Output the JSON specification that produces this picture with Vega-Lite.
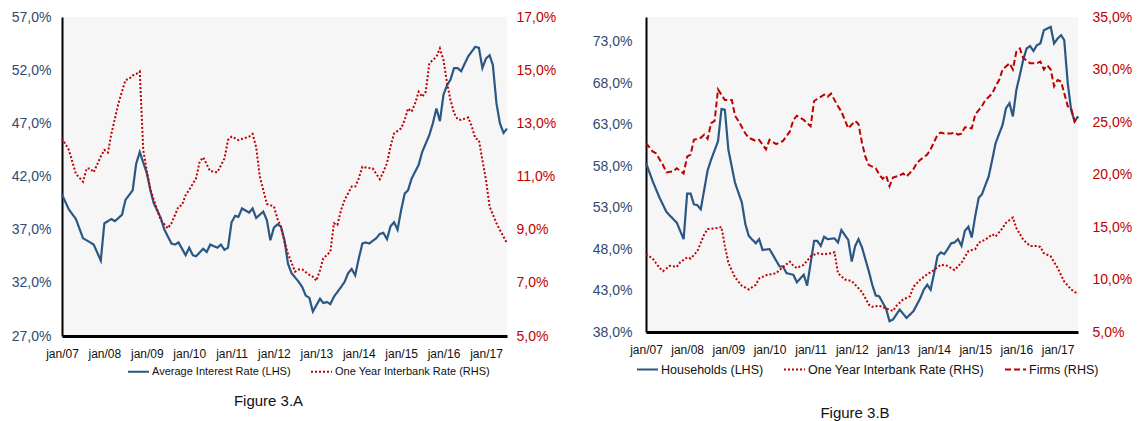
{
"$schema":"https://vega.github.io/schema/vega-lite/v6.json",
"background":"white",
"padding":{"left":5,"top":10,"right":5,"bottom":5},
"config":{"font":"Liberation Sans","view":{"stroke":null}},
"datasets":{
"A":[
{"s":"Average Interest Rate (LHS)","d":"2007-01-01","v":40.3},{"s":"Average Interest Rate (LHS)","d":"2007-03-01","v":38.9},{"s":"Average Interest Rate (LHS)","d":"2007-05-01","v":38.0},{"s":"Average Interest Rate (LHS)","d":"2007-07-01","v":36.2},{"s":"Average Interest Rate (LHS)","d":"2007-09-01","v":35.8},{"s":"Average Interest Rate (LHS)","d":"2007-10-01","v":35.6},{"s":"Average Interest Rate (LHS)","d":"2007-12-01","v":34.1},{"s":"Average Interest Rate (LHS)","d":"2008-01-01","v":37.6},{"s":"Average Interest Rate (LHS)","d":"2008-03-01","v":38.0},{"s":"Average Interest Rate (LHS)","d":"2008-04-01","v":37.8},{"s":"Average Interest Rate (LHS)","d":"2008-06-01","v":38.4},{"s":"Average Interest Rate (LHS)","d":"2008-07-01","v":39.8},{"s":"Average Interest Rate (LHS)","d":"2008-09-01","v":40.7},{"s":"Average Interest Rate (LHS)","d":"2008-10-01","v":43.2},{"s":"Average Interest Rate (LHS)","d":"2008-11-01","v":44.3},{"s":"Average Interest Rate (LHS)","d":"2009-01-01","v":42.3},{"s":"Average Interest Rate (LHS)","d":"2009-02-01","v":40.7},{"s":"Average Interest Rate (LHS)","d":"2009-03-01","v":39.5},{"s":"Average Interest Rate (LHS)","d":"2009-05-01","v":38.1},{"s":"Average Interest Rate (LHS)","d":"2009-06-01","v":37.0},{"s":"Average Interest Rate (LHS)","d":"2009-08-01","v":35.7},{"s":"Average Interest Rate (LHS)","d":"2009-09-01","v":35.6},{"s":"Average Interest Rate (LHS)","d":"2009-10-01","v":35.8},{"s":"Average Interest Rate (LHS)","d":"2009-12-01","v":34.6},{"s":"Average Interest Rate (LHS)","d":"2010-01-01","v":35.3},{"s":"Average Interest Rate (LHS)","d":"2010-02-01","v":34.6},{"s":"Average Interest Rate (LHS)","d":"2010-03-01","v":34.5},{"s":"Average Interest Rate (LHS)","d":"2010-05-01","v":35.2},{"s":"Average Interest Rate (LHS)","d":"2010-06-01","v":34.9},{"s":"Average Interest Rate (LHS)","d":"2010-07-01","v":35.6},{"s":"Average Interest Rate (LHS)","d":"2010-09-01","v":35.3},{"s":"Average Interest Rate (LHS)","d":"2010-10-01","v":35.6},{"s":"Average Interest Rate (LHS)","d":"2010-11-01","v":35.1},{"s":"Average Interest Rate (LHS)","d":"2010-12-01","v":35.3},{"s":"Average Interest Rate (LHS)","d":"2011-01-01","v":37.7},{"s":"Average Interest Rate (LHS)","d":"2011-02-01","v":38.3},{"s":"Average Interest Rate (LHS)","d":"2011-03-01","v":38.2},{"s":"Average Interest Rate (LHS)","d":"2011-04-01","v":39.0},{"s":"Average Interest Rate (LHS)","d":"2011-06-01","v":38.6},{"s":"Average Interest Rate (LHS)","d":"2011-07-01","v":39.0},{"s":"Average Interest Rate (LHS)","d":"2011-08-01","v":38.1},{"s":"Average Interest Rate (LHS)","d":"2011-10-01","v":38.7},{"s":"Average Interest Rate (LHS)","d":"2011-11-01","v":37.9},{"s":"Average Interest Rate (LHS)","d":"2011-12-01","v":36.0},{"s":"Average Interest Rate (LHS)","d":"2012-01-01","v":37.2},{"s":"Average Interest Rate (LHS)","d":"2012-02-01","v":37.5},{"s":"Average Interest Rate (LHS)","d":"2012-03-01","v":37.3},{"s":"Average Interest Rate (LHS)","d":"2012-04-01","v":36.0},{"s":"Average Interest Rate (LHS)","d":"2012-05-01","v":33.8},{"s":"Average Interest Rate (LHS)","d":"2012-06-01","v":32.9},{"s":"Average Interest Rate (LHS)","d":"2012-08-01","v":32.1},{"s":"Average Interest Rate (LHS)","d":"2012-09-01","v":31.6},{"s":"Average Interest Rate (LHS)","d":"2012-10-01","v":30.8},{"s":"Average Interest Rate (LHS)","d":"2012-11-01","v":30.6},{"s":"Average Interest Rate (LHS)","d":"2012-12-01","v":29.3},{"s":"Average Interest Rate (LHS)","d":"2013-01-01","v":29.9},{"s":"Average Interest Rate (LHS)","d":"2013-02-01","v":30.5},{"s":"Average Interest Rate (LHS)","d":"2013-03-01","v":30.1},{"s":"Average Interest Rate (LHS)","d":"2013-04-01","v":30.2},{"s":"Average Interest Rate (LHS)","d":"2013-05-01","v":30.0},{"s":"Average Interest Rate (LHS)","d":"2013-06-01","v":30.7},{"s":"Average Interest Rate (LHS)","d":"2013-08-01","v":31.6},{"s":"Average Interest Rate (LHS)","d":"2013-09-01","v":32.1},{"s":"Average Interest Rate (LHS)","d":"2013-10-01","v":32.9},{"s":"Average Interest Rate (LHS)","d":"2013-11-01","v":33.3},{"s":"Average Interest Rate (LHS)","d":"2013-12-01","v":32.7},{"s":"Average Interest Rate (LHS)","d":"2014-01-01","v":34.3},{"s":"Average Interest Rate (LHS)","d":"2014-02-01","v":35.7},{"s":"Average Interest Rate (LHS)","d":"2014-03-01","v":35.8},{"s":"Average Interest Rate (LHS)","d":"2014-04-01","v":35.7},{"s":"Average Interest Rate (LHS)","d":"2014-06-01","v":36.2},{"s":"Average Interest Rate (LHS)","d":"2014-07-01","v":36.6},{"s":"Average Interest Rate (LHS)","d":"2014-08-01","v":36.7},{"s":"Average Interest Rate (LHS)","d":"2014-09-01","v":36.1},{"s":"Average Interest Rate (LHS)","d":"2014-10-01","v":37.3},{"s":"Average Interest Rate (LHS)","d":"2014-11-01","v":37.7},{"s":"Average Interest Rate (LHS)","d":"2014-12-01","v":37.0},{"s":"Average Interest Rate (LHS)","d":"2015-01-01","v":38.85},{"s":"Average Interest Rate (LHS)","d":"2015-02-01","v":40.4},{"s":"Average Interest Rate (LHS)","d":"2015-03-01","v":40.7},{"s":"Average Interest Rate (LHS)","d":"2015-04-01","v":41.8},{"s":"Average Interest Rate (LHS)","d":"2015-06-01","v":43.1},{"s":"Average Interest Rate (LHS)","d":"2015-07-01","v":44.3},{"s":"Average Interest Rate (LHS)","d":"2015-09-01","v":45.9},{"s":"Average Interest Rate (LHS)","d":"2015-10-01","v":47.0},{"s":"Average Interest Rate (LHS)","d":"2015-11-01","v":48.4},{"s":"Average Interest Rate (LHS)","d":"2015-12-01","v":47.2},{"s":"Average Interest Rate (LHS)","d":"2016-01-01","v":49.7},{"s":"Average Interest Rate (LHS)","d":"2016-02-01","v":50.6},{"s":"Average Interest Rate (LHS)","d":"2016-03-01","v":51.1},{"s":"Average Interest Rate (LHS)","d":"2016-04-01","v":52.2},{"s":"Average Interest Rate (LHS)","d":"2016-05-01","v":52.2},{"s":"Average Interest Rate (LHS)","d":"2016-06-01","v":51.9},{"s":"Average Interest Rate (LHS)","d":"2016-07-01","v":52.6},{"s":"Average Interest Rate (LHS)","d":"2016-08-01","v":53.3},{"s":"Average Interest Rate (LHS)","d":"2016-10-01","v":54.2},{"s":"Average Interest Rate (LHS)","d":"2016-11-01","v":54.1},{"s":"Average Interest Rate (LHS)","d":"2016-12-01","v":52.2},{"s":"Average Interest Rate (LHS)","d":"2017-01-01","v":53.1},{"s":"Average Interest Rate (LHS)","d":"2017-02-01","v":53.4},{"s":"Average Interest Rate (LHS)","d":"2017-03-01","v":52.5},{"s":"Average Interest Rate (LHS)","d":"2017-04-01","v":48.9},{"s":"Average Interest Rate (LHS)","d":"2017-05-01","v":47.0},{"s":"Average Interest Rate (LHS)","d":"2017-06-01","v":46.1},{"s":"Average Interest Rate (LHS)","d":"2017-07-01","v":46.5},
{"s":"One Year Interbank Rate (RHS)","d":"2007-01-01","v":12.44},{"s":"One Year Interbank Rate (RHS)","d":"2007-03-01","v":12.0},{"s":"One Year Interbank Rate (RHS)","d":"2007-05-01","v":11.1},{"s":"One Year Interbank Rate (RHS)","d":"2007-07-01","v":10.8},{"s":"One Year Interbank Rate (RHS)","d":"2007-08-01","v":11.3},{"s":"One Year Interbank Rate (RHS)","d":"2007-09-01","v":11.3},{"s":"One Year Interbank Rate (RHS)","d":"2007-10-01","v":11.16},{"s":"One Year Interbank Rate (RHS)","d":"2007-12-01","v":11.75},{"s":"One Year Interbank Rate (RHS)","d":"2008-01-01","v":12.0},{"s":"One Year Interbank Rate (RHS)","d":"2008-02-01","v":11.9},{"s":"One Year Interbank Rate (RHS)","d":"2008-03-01","v":12.6},{"s":"One Year Interbank Rate (RHS)","d":"2008-05-01","v":13.75},{"s":"One Year Interbank Rate (RHS)","d":"2008-07-01","v":14.63},{"s":"One Year Interbank Rate (RHS)","d":"2008-08-01","v":14.67},{"s":"One Year Interbank Rate (RHS)","d":"2008-09-01","v":14.8},{"s":"One Year Interbank Rate (RHS)","d":"2008-10-01","v":14.85},{"s":"One Year Interbank Rate (RHS)","d":"2008-11-01","v":14.95},{"s":"One Year Interbank Rate (RHS)","d":"2008-12-01","v":12.0},{"s":"One Year Interbank Rate (RHS)","d":"2009-01-01","v":11.2},{"s":"One Year Interbank Rate (RHS)","d":"2009-02-01","v":10.5},{"s":"One Year Interbank Rate (RHS)","d":"2009-04-01","v":9.74},{"s":"One Year Interbank Rate (RHS)","d":"2009-05-01","v":9.36},{"s":"One Year Interbank Rate (RHS)","d":"2009-07-01","v":9.05},{"s":"One Year Interbank Rate (RHS)","d":"2009-08-01","v":9.24},{"s":"One Year Interbank Rate (RHS)","d":"2009-10-01","v":9.87},{"s":"One Year Interbank Rate (RHS)","d":"2009-11-01","v":9.93},{"s":"One Year Interbank Rate (RHS)","d":"2009-12-01","v":10.3},{"s":"One Year Interbank Rate (RHS)","d":"2010-01-01","v":10.5},{"s":"One Year Interbank Rate (RHS)","d":"2010-03-01","v":10.93},{"s":"One Year Interbank Rate (RHS)","d":"2010-04-01","v":11.56},{"s":"One Year Interbank Rate (RHS)","d":"2010-05-01","v":11.72},{"s":"One Year Interbank Rate (RHS)","d":"2010-07-01","v":11.2},{"s":"One Year Interbank Rate (RHS)","d":"2010-09-01","v":11.16},{"s":"One Year Interbank Rate (RHS)","d":"2010-11-01","v":11.68},{"s":"One Year Interbank Rate (RHS)","d":"2010-12-01","v":12.37},{"s":"One Year Interbank Rate (RHS)","d":"2011-01-01","v":12.5},{"s":"One Year Interbank Rate (RHS)","d":"2011-03-01","v":12.37},{"s":"One Year Interbank Rate (RHS)","d":"2011-06-01","v":12.5},{"s":"One Year Interbank Rate (RHS)","d":"2011-07-01","v":12.6},{"s":"One Year Interbank Rate (RHS)","d":"2011-08-01","v":12.1},{"s":"One Year Interbank Rate (RHS)","d":"2011-09-01","v":11.0},{"s":"One Year Interbank Rate (RHS)","d":"2011-11-01","v":9.97},{"s":"One Year Interbank Rate (RHS)","d":"2012-01-01","v":9.87},{"s":"One Year Interbank Rate (RHS)","d":"2012-02-01","v":9.4},{"s":"One Year Interbank Rate (RHS)","d":"2012-03-01","v":9.1},{"s":"One Year Interbank Rate (RHS)","d":"2012-04-01","v":8.55},{"s":"One Year Interbank Rate (RHS)","d":"2012-05-01","v":8.1},{"s":"One Year Interbank Rate (RHS)","d":"2012-07-01","v":7.42},{"s":"One Year Interbank Rate (RHS)","d":"2012-08-01","v":7.5},{"s":"One Year Interbank Rate (RHS)","d":"2012-09-01","v":7.5},{"s":"One Year Interbank Rate (RHS)","d":"2012-11-01","v":7.3},{"s":"One Year Interbank Rate (RHS)","d":"2012-12-01","v":7.23},{"s":"One Year Interbank Rate (RHS)","d":"2013-01-01","v":7.08},{"s":"One Year Interbank Rate (RHS)","d":"2013-02-01","v":7.48},{"s":"One Year Interbank Rate (RHS)","d":"2013-03-01","v":7.92},{"s":"One Year Interbank Rate (RHS)","d":"2013-05-01","v":8.17},{"s":"One Year Interbank Rate (RHS)","d":"2013-06-01","v":9.24},{"s":"One Year Interbank Rate (RHS)","d":"2013-07-01","v":9.18},{"s":"One Year Interbank Rate (RHS)","d":"2013-08-01","v":9.74},{"s":"One Year Interbank Rate (RHS)","d":"2013-09-01","v":10.12},{"s":"One Year Interbank Rate (RHS)","d":"2013-11-01","v":10.62},{"s":"One Year Interbank Rate (RHS)","d":"2013-12-01","v":10.62},{"s":"One Year Interbank Rate (RHS)","d":"2014-01-01","v":10.93},{"s":"One Year Interbank Rate (RHS)","d":"2014-02-01","v":11.37},{"s":"One Year Interbank Rate (RHS)","d":"2014-03-01","v":11.34},{"s":"One Year Interbank Rate (RHS)","d":"2014-05-01","v":11.3},{"s":"One Year Interbank Rate (RHS)","d":"2014-07-01","v":10.9},{"s":"One Year Interbank Rate (RHS)","d":"2014-08-01","v":11.18},{"s":"One Year Interbank Rate (RHS)","d":"2014-09-01","v":11.5},{"s":"One Year Interbank Rate (RHS)","d":"2014-10-01","v":12.12},{"s":"One Year Interbank Rate (RHS)","d":"2014-11-01","v":12.62},{"s":"One Year Interbank Rate (RHS)","d":"2015-01-01","v":12.81},{"s":"One Year Interbank Rate (RHS)","d":"2015-02-01","v":13.13},{"s":"One Year Interbank Rate (RHS)","d":"2015-03-01","v":13.56},{"s":"One Year Interbank Rate (RHS)","d":"2015-04-01","v":13.44},{"s":"One Year Interbank Rate (RHS)","d":"2015-05-01","v":13.75},{"s":"One Year Interbank Rate (RHS)","d":"2015-06-01","v":14.19},{"s":"One Year Interbank Rate (RHS)","d":"2015-07-01","v":14.0},{"s":"One Year Interbank Rate (RHS)","d":"2015-08-01","v":14.19},{"s":"One Year Interbank Rate (RHS)","d":"2015-09-01","v":15.26},{"s":"One Year Interbank Rate (RHS)","d":"2015-10-01","v":15.38},{"s":"One Year Interbank Rate (RHS)","d":"2015-11-01","v":15.5},{"s":"One Year Interbank Rate (RHS)","d":"2015-12-01","v":15.82},{"s":"One Year Interbank Rate (RHS)","d":"2016-01-01","v":15.38},{"s":"One Year Interbank Rate (RHS)","d":"2016-02-01","v":14.5},{"s":"One Year Interbank Rate (RHS)","d":"2016-03-01","v":13.88},{"s":"One Year Interbank Rate (RHS)","d":"2016-04-01","v":13.38},{"s":"One Year Interbank Rate (RHS)","d":"2016-05-01","v":13.15},{"s":"One Year Interbank Rate (RHS)","d":"2016-06-01","v":13.13},{"s":"One Year Interbank Rate (RHS)","d":"2016-08-01","v":13.22},{"s":"One Year Interbank Rate (RHS)","d":"2016-09-01","v":12.87},{"s":"One Year Interbank Rate (RHS)","d":"2016-10-01","v":12.44},{"s":"One Year Interbank Rate (RHS)","d":"2016-11-01","v":12.37},{"s":"One Year Interbank Rate (RHS)","d":"2016-12-01","v":11.62},{"s":"One Year Interbank Rate (RHS)","d":"2017-01-01","v":10.87},{"s":"One Year Interbank Rate (RHS)","d":"2017-02-01","v":9.87},{"s":"One Year Interbank Rate (RHS)","d":"2017-04-01","v":9.24},{"s":"One Year Interbank Rate (RHS)","d":"2017-05-01","v":8.99},{"s":"One Year Interbank Rate (RHS)","d":"2017-07-01","v":8.49}
],
"B":[
{"s":"Households (LHS)","d":"2007-01-01","v":58.4},{"s":"Households (LHS)","d":"2007-03-01","v":56.2},{"s":"Households (LHS)","d":"2007-05-01","v":54.2},{"s":"Households (LHS)","d":"2007-07-01","v":52.5},{"s":"Households (LHS)","d":"2007-09-01","v":51.6},{"s":"Households (LHS)","d":"2007-10-01","v":51.2},{"s":"Households (LHS)","d":"2007-12-01","v":49.2},{"s":"Households (LHS)","d":"2008-01-01","v":54.7},{"s":"Households (LHS)","d":"2008-02-01","v":54.7},{"s":"Households (LHS)","d":"2008-03-01","v":53.4},{"s":"Households (LHS)","d":"2008-04-01","v":53.3},{"s":"Households (LHS)","d":"2008-05-01","v":52.8},{"s":"Households (LHS)","d":"2008-07-01","v":57.5},{"s":"Households (LHS)","d":"2008-08-01","v":58.8},{"s":"Households (LHS)","d":"2008-10-01","v":61.0},{"s":"Households (LHS)","d":"2008-11-01","v":64.9},{"s":"Households (LHS)","d":"2008-12-01","v":64.8},{"s":"Households (LHS)","d":"2009-01-01","v":60.0},{"s":"Households (LHS)","d":"2009-03-01","v":56.0},{"s":"Households (LHS)","d":"2009-05-01","v":53.6},{"s":"Households (LHS)","d":"2009-06-01","v":51.0},{"s":"Households (LHS)","d":"2009-07-01","v":49.6},{"s":"Households (LHS)","d":"2009-09-01","v":48.7},{"s":"Households (LHS)","d":"2009-10-01","v":49.2},{"s":"Households (LHS)","d":"2009-11-01","v":47.9},{"s":"Households (LHS)","d":"2010-01-01","v":48.0},{"s":"Households (LHS)","d":"2010-04-01","v":45.9},{"s":"Households (LHS)","d":"2010-05-01","v":45.9},{"s":"Households (LHS)","d":"2010-06-01","v":45.1},{"s":"Households (LHS)","d":"2010-08-01","v":44.9},{"s":"Households (LHS)","d":"2010-09-01","v":44.0},{"s":"Households (LHS)","d":"2010-11-01","v":44.9},{"s":"Households (LHS)","d":"2010-12-01","v":43.6},{"s":"Households (LHS)","d":"2011-02-01","v":49.0},{"s":"Households (LHS)","d":"2011-03-01","v":49.0},{"s":"Households (LHS)","d":"2011-04-01","v":48.4},{"s":"Households (LHS)","d":"2011-05-01","v":49.5},{"s":"Households (LHS)","d":"2011-06-01","v":49.2},{"s":"Households (LHS)","d":"2011-08-01","v":49.3},{"s":"Households (LHS)","d":"2011-09-01","v":48.8},{"s":"Households (LHS)","d":"2011-10-01","v":50.3},{"s":"Households (LHS)","d":"2011-12-01","v":49.1},{"s":"Households (LHS)","d":"2012-01-01","v":46.5},{"s":"Households (LHS)","d":"2012-02-01","v":48.4},{"s":"Households (LHS)","d":"2012-03-01","v":49.2},{"s":"Households (LHS)","d":"2012-04-01","v":48.2},{"s":"Households (LHS)","d":"2012-06-01","v":45.3},{"s":"Households (LHS)","d":"2012-07-01","v":43.7},{"s":"Households (LHS)","d":"2012-08-01","v":42.4},{"s":"Households (LHS)","d":"2012-09-01","v":42.3},{"s":"Households (LHS)","d":"2012-11-01","v":40.8},{"s":"Households (LHS)","d":"2012-12-01","v":39.3},{"s":"Households (LHS)","d":"2013-01-01","v":39.5},{"s":"Households (LHS)","d":"2013-03-01","v":40.7},{"s":"Households (LHS)","d":"2013-04-01","v":40.2},{"s":"Households (LHS)","d":"2013-05-01","v":39.7},{"s":"Households (LHS)","d":"2013-07-01","v":40.5},{"s":"Households (LHS)","d":"2013-08-01","v":41.3},{"s":"Households (LHS)","d":"2013-09-01","v":42.1},{"s":"Households (LHS)","d":"2013-10-01","v":43.1},{"s":"Households (LHS)","d":"2013-11-01","v":43.7},{"s":"Households (LHS)","d":"2013-12-01","v":43.1},{"s":"Households (LHS)","d":"2014-01-01","v":45.1},{"s":"Households (LHS)","d":"2014-02-01","v":47.2},{"s":"Households (LHS)","d":"2014-03-01","v":47.6},{"s":"Households (LHS)","d":"2014-04-01","v":47.4},{"s":"Households (LHS)","d":"2014-05-01","v":48.0},{"s":"Households (LHS)","d":"2014-06-01","v":48.7},{"s":"Households (LHS)","d":"2014-07-01","v":48.8},{"s":"Households (LHS)","d":"2014-08-01","v":49.2},{"s":"Households (LHS)","d":"2014-09-01","v":48.4},{"s":"Households (LHS)","d":"2014-10-01","v":50.2},{"s":"Households (LHS)","d":"2014-11-01","v":50.7},{"s":"Households (LHS)","d":"2014-12-01","v":49.4},{"s":"Households (LHS)","d":"2015-01-01","v":52.0},{"s":"Households (LHS)","d":"2015-02-01","v":54.2},{"s":"Households (LHS)","d":"2015-03-01","v":54.6},{"s":"Households (LHS)","d":"2015-05-01","v":56.8},{"s":"Households (LHS)","d":"2015-06-01","v":58.8},{"s":"Households (LHS)","d":"2015-07-01","v":60.8},{"s":"Households (LHS)","d":"2015-09-01","v":63.0},{"s":"Households (LHS)","d":"2015-10-01","v":65.0},{"s":"Households (LHS)","d":"2015-11-01","v":65.6},{"s":"Households (LHS)","d":"2015-12-01","v":64.0},{"s":"Households (LHS)","d":"2016-01-01","v":67.2},{"s":"Households (LHS)","d":"2016-02-01","v":69.0},{"s":"Households (LHS)","d":"2016-03-01","v":70.8},{"s":"Households (LHS)","d":"2016-04-01","v":72.2},{"s":"Households (LHS)","d":"2016-05-01","v":72.5},{"s":"Households (LHS)","d":"2016-06-01","v":71.9},{"s":"Households (LHS)","d":"2016-07-01","v":72.6},{"s":"Households (LHS)","d":"2016-08-01","v":72.8},{"s":"Households (LHS)","d":"2016-09-01","v":74.4},{"s":"Households (LHS)","d":"2016-10-01","v":74.6},{"s":"Households (LHS)","d":"2016-11-01","v":74.8},{"s":"Households (LHS)","d":"2016-12-01","v":72.8},{"s":"Households (LHS)","d":"2017-01-01","v":73.4},{"s":"Households (LHS)","d":"2017-02-01","v":73.8},{"s":"Households (LHS)","d":"2017-03-01","v":73.2},{"s":"Households (LHS)","d":"2017-04-01","v":68.0},{"s":"Households (LHS)","d":"2017-05-01","v":64.8},{"s":"Households (LHS)","d":"2017-06-01","v":63.4},{"s":"Households (LHS)","d":"2017-07-01","v":64.0},
{"s":"One Year Interbank Rate (RHS)","d":"2007-01-01","v":12.4},{"s":"One Year Interbank Rate (RHS)","d":"2007-03-01","v":12.0},{"s":"One Year Interbank Rate (RHS)","d":"2007-05-01","v":11.1},{"s":"One Year Interbank Rate (RHS)","d":"2007-06-01","v":10.8},{"s":"One Year Interbank Rate (RHS)","d":"2007-08-01","v":11.3},{"s":"One Year Interbank Rate (RHS)","d":"2007-10-01","v":11.2},{"s":"One Year Interbank Rate (RHS)","d":"2007-11-01","v":11.65},{"s":"One Year Interbank Rate (RHS)","d":"2008-01-01","v":12.1},{"s":"One Year Interbank Rate (RHS)","d":"2008-02-01","v":12.0},{"s":"One Year Interbank Rate (RHS)","d":"2008-04-01","v":12.7},{"s":"One Year Interbank Rate (RHS)","d":"2008-06-01","v":14.3},{"s":"One Year Interbank Rate (RHS)","d":"2008-07-01","v":14.8},{"s":"One Year Interbank Rate (RHS)","d":"2008-10-01","v":14.9},{"s":"One Year Interbank Rate (RHS)","d":"2008-11-01","v":15.0},{"s":"One Year Interbank Rate (RHS)","d":"2008-12-01","v":13.2},{"s":"One Year Interbank Rate (RHS)","d":"2009-01-01","v":11.6},{"s":"One Year Interbank Rate (RHS)","d":"2009-03-01","v":10.2},{"s":"One Year Interbank Rate (RHS)","d":"2009-05-01","v":9.4},{"s":"One Year Interbank Rate (RHS)","d":"2009-07-01","v":9.05},{"s":"One Year Interbank Rate (RHS)","d":"2009-09-01","v":9.5},{"s":"One Year Interbank Rate (RHS)","d":"2009-10-01","v":10.1},{"s":"One Year Interbank Rate (RHS)","d":"2009-12-01","v":10.4},{"s":"One Year Interbank Rate (RHS)","d":"2010-03-01","v":10.6},{"s":"One Year Interbank Rate (RHS)","d":"2010-05-01","v":11.2},{"s":"One Year Interbank Rate (RHS)","d":"2010-07-01","v":11.7},{"s":"One Year Interbank Rate (RHS)","d":"2010-08-01","v":11.3},{"s":"One Year Interbank Rate (RHS)","d":"2010-09-01","v":11.1},{"s":"One Year Interbank Rate (RHS)","d":"2010-11-01","v":11.4},{"s":"One Year Interbank Rate (RHS)","d":"2011-01-01","v":12.2},{"s":"One Year Interbank Rate (RHS)","d":"2011-03-01","v":12.5},{"s":"One Year Interbank Rate (RHS)","d":"2011-05-01","v":12.4},{"s":"One Year Interbank Rate (RHS)","d":"2011-07-01","v":12.5},{"s":"One Year Interbank Rate (RHS)","d":"2011-08-01","v":12.6},{"s":"One Year Interbank Rate (RHS)","d":"2011-09-01","v":10.6},{"s":"One Year Interbank Rate (RHS)","d":"2011-11-01","v":10.0},{"s":"One Year Interbank Rate (RHS)","d":"2012-01-01","v":9.85},{"s":"One Year Interbank Rate (RHS)","d":"2012-02-01","v":9.5},{"s":"One Year Interbank Rate (RHS)","d":"2012-04-01","v":8.8},{"s":"One Year Interbank Rate (RHS)","d":"2012-06-01","v":7.6},{"s":"One Year Interbank Rate (RHS)","d":"2012-07-01","v":7.4},{"s":"One Year Interbank Rate (RHS)","d":"2012-09-01","v":7.5},{"s":"One Year Interbank Rate (RHS)","d":"2012-11-01","v":7.25},{"s":"One Year Interbank Rate (RHS)","d":"2013-01-01","v":7.0},{"s":"One Year Interbank Rate (RHS)","d":"2013-02-01","v":7.5},{"s":"One Year Interbank Rate (RHS)","d":"2013-04-01","v":8.1},{"s":"One Year Interbank Rate (RHS)","d":"2013-06-01","v":8.4},{"s":"One Year Interbank Rate (RHS)","d":"2013-07-01","v":9.3},{"s":"One Year Interbank Rate (RHS)","d":"2013-09-01","v":10.0},{"s":"One Year Interbank Rate (RHS)","d":"2013-11-01","v":10.5},{"s":"One Year Interbank Rate (RHS)","d":"2014-01-01","v":10.9},{"s":"One Year Interbank Rate (RHS)","d":"2014-03-01","v":11.4},{"s":"One Year Interbank Rate (RHS)","d":"2014-05-01","v":11.3},{"s":"One Year Interbank Rate (RHS)","d":"2014-07-01","v":10.9},{"s":"One Year Interbank Rate (RHS)","d":"2014-09-01","v":11.6},{"s":"One Year Interbank Rate (RHS)","d":"2014-11-01","v":12.7},{"s":"One Year Interbank Rate (RHS)","d":"2015-01-01","v":12.9},{"s":"One Year Interbank Rate (RHS)","d":"2015-02-01","v":13.5},{"s":"One Year Interbank Rate (RHS)","d":"2015-04-01","v":13.8},{"s":"One Year Interbank Rate (RHS)","d":"2015-06-01","v":14.3},{"s":"One Year Interbank Rate (RHS)","d":"2015-07-01","v":14.1},{"s":"One Year Interbank Rate (RHS)","d":"2015-09-01","v":14.9},{"s":"One Year Interbank Rate (RHS)","d":"2015-10-01","v":15.4},{"s":"One Year Interbank Rate (RHS)","d":"2015-12-01","v":15.9},{"s":"One Year Interbank Rate (RHS)","d":"2016-01-01","v":14.9},{"s":"One Year Interbank Rate (RHS)","d":"2016-03-01","v":13.8},{"s":"One Year Interbank Rate (RHS)","d":"2016-05-01","v":13.2},{"s":"One Year Interbank Rate (RHS)","d":"2016-07-01","v":13.2},{"s":"One Year Interbank Rate (RHS)","d":"2016-08-01","v":13.1},{"s":"One Year Interbank Rate (RHS)","d":"2016-09-01","v":12.5},{"s":"One Year Interbank Rate (RHS)","d":"2016-11-01","v":12.2},{"s":"One Year Interbank Rate (RHS)","d":"2017-01-01","v":11.1},{"s":"One Year Interbank Rate (RHS)","d":"2017-03-01","v":9.8},{"s":"One Year Interbank Rate (RHS)","d":"2017-05-01","v":9.05},{"s":"One Year Interbank Rate (RHS)","d":"2017-07-01","v":8.6},
{"s":"Firms (RHS)","d":"2007-01-01","v":23.0},{"s":"Firms (RHS)","d":"2007-03-01","v":22.2},{"s":"Firms (RHS)","d":"2007-04-01","v":22.0},{"s":"Firms (RHS)","d":"2007-06-01","v":20.9},{"s":"Firms (RHS)","d":"2007-07-01","v":20.2},{"s":"Firms (RHS)","d":"2007-09-01","v":20.3},{"s":"Firms (RHS)","d":"2007-10-01","v":20.6},{"s":"Firms (RHS)","d":"2007-12-01","v":20.1},{"s":"Firms (RHS)","d":"2008-01-01","v":21.7},{"s":"Firms (RHS)","d":"2008-02-01","v":21.9},{"s":"Firms (RHS)","d":"2008-03-01","v":23.3},{"s":"Firms (RHS)","d":"2008-05-01","v":23.5},{"s":"Firms (RHS)","d":"2008-06-01","v":23.8},{"s":"Firms (RHS)","d":"2008-07-01","v":23.4},{"s":"Firms (RHS)","d":"2008-08-01","v":24.9},{"s":"Firms (RHS)","d":"2008-09-01","v":25.1},{"s":"Firms (RHS)","d":"2008-10-01","v":28.1},{"s":"Firms (RHS)","d":"2008-11-01","v":27.6},{"s":"Firms (RHS)","d":"2008-12-01","v":27.1},{"s":"Firms (RHS)","d":"2009-02-01","v":27.1},{"s":"Firms (RHS)","d":"2009-03-01","v":25.6},{"s":"Firms (RHS)","d":"2009-04-01","v":25.1},{"s":"Firms (RHS)","d":"2009-06-01","v":23.9},{"s":"Firms (RHS)","d":"2009-07-01","v":23.5},{"s":"Firms (RHS)","d":"2009-09-01","v":23.2},{"s":"Firms (RHS)","d":"2009-10-01","v":23.3},{"s":"Firms (RHS)","d":"2009-12-01","v":22.4},{"s":"Firms (RHS)","d":"2010-01-01","v":23.3},{"s":"Firms (RHS)","d":"2010-03-01","v":22.9},{"s":"Firms (RHS)","d":"2010-05-01","v":23.2},{"s":"Firms (RHS)","d":"2010-07-01","v":24.1},{"s":"Firms (RHS)","d":"2010-08-01","v":25.2},{"s":"Firms (RHS)","d":"2010-09-01","v":25.6},{"s":"Firms (RHS)","d":"2010-11-01","v":25.2},{"s":"Firms (RHS)","d":"2011-01-01","v":24.6},{"s":"Firms (RHS)","d":"2011-02-01","v":27.0},{"s":"Firms (RHS)","d":"2011-05-01","v":27.6},{"s":"Firms (RHS)","d":"2011-06-01","v":27.4},{"s":"Firms (RHS)","d":"2011-07-01","v":27.7},{"s":"Firms (RHS)","d":"2011-09-01","v":26.5},{"s":"Firms (RHS)","d":"2011-10-01","v":26.0},{"s":"Firms (RHS)","d":"2011-12-01","v":24.4},{"s":"Firms (RHS)","d":"2012-02-01","v":25.1},{"s":"Firms (RHS)","d":"2012-03-01","v":24.8},{"s":"Firms (RHS)","d":"2012-04-01","v":23.0},{"s":"Firms (RHS)","d":"2012-05-01","v":21.7},{"s":"Firms (RHS)","d":"2012-06-01","v":20.9},{"s":"Firms (RHS)","d":"2012-08-01","v":20.6},{"s":"Firms (RHS)","d":"2012-09-01","v":20.0},{"s":"Firms (RHS)","d":"2012-10-01","v":19.6},{"s":"Firms (RHS)","d":"2012-11-01","v":19.9},{"s":"Firms (RHS)","d":"2012-12-01","v":18.9},{"s":"Firms (RHS)","d":"2013-01-01","v":19.7},{"s":"Firms (RHS)","d":"2013-03-01","v":19.9},{"s":"Firms (RHS)","d":"2013-04-01","v":20.1},{"s":"Firms (RHS)","d":"2013-05-01","v":19.8},{"s":"Firms (RHS)","d":"2013-07-01","v":20.5},{"s":"Firms (RHS)","d":"2013-08-01","v":21.1},{"s":"Firms (RHS)","d":"2013-09-01","v":21.4},{"s":"Firms (RHS)","d":"2013-11-01","v":21.9},{"s":"Firms (RHS)","d":"2013-12-01","v":22.4},{"s":"Firms (RHS)","d":"2014-02-01","v":23.8},{"s":"Firms (RHS)","d":"2014-03-01","v":24.0},{"s":"Firms (RHS)","d":"2014-04-01","v":23.9},{"s":"Firms (RHS)","d":"2014-06-01","v":23.9},{"s":"Firms (RHS)","d":"2014-07-01","v":24.0},{"s":"Firms (RHS)","d":"2014-08-01","v":23.8},{"s":"Firms (RHS)","d":"2014-09-01","v":23.9},{"s":"Firms (RHS)","d":"2014-10-01","v":24.5},{"s":"Firms (RHS)","d":"2014-12-01","v":24.4},{"s":"Firms (RHS)","d":"2015-01-01","v":25.7},{"s":"Firms (RHS)","d":"2015-03-01","v":26.5},{"s":"Firms (RHS)","d":"2015-04-01","v":27.1},{"s":"Firms (RHS)","d":"2015-06-01","v":27.7},{"s":"Firms (RHS)","d":"2015-07-01","v":28.4},{"s":"Firms (RHS)","d":"2015-08-01","v":29.0},{"s":"Firms (RHS)","d":"2015-09-01","v":30.0},{"s":"Firms (RHS)","d":"2015-11-01","v":30.6},{"s":"Firms (RHS)","d":"2015-12-01","v":30.0},{"s":"Firms (RHS)","d":"2016-01-01","v":31.7},{"s":"Firms (RHS)","d":"2016-02-01","v":32.0},{"s":"Firms (RHS)","d":"2016-03-01","v":31.1},{"s":"Firms (RHS)","d":"2016-05-01","v":30.6},{"s":"Firms (RHS)","d":"2016-07-01","v":30.6},{"s":"Firms (RHS)","d":"2016-08-01","v":30.75},{"s":"Firms (RHS)","d":"2016-09-01","v":30.0},{"s":"Firms (RHS)","d":"2016-10-01","v":30.4},{"s":"Firms (RHS)","d":"2016-11-01","v":30.0},{"s":"Firms (RHS)","d":"2016-12-01","v":28.4},{"s":"Firms (RHS)","d":"2017-01-01","v":29.0},{"s":"Firms (RHS)","d":"2017-02-01","v":28.85},{"s":"Firms (RHS)","d":"2017-04-01","v":26.5},{"s":"Firms (RHS)","d":"2017-05-01","v":26.3},{"s":"Firms (RHS)","d":"2017-06-01","v":25.05},{"s":"Firms (RHS)","d":"2017-07-01","v":25.5}
]
},
"spacing":31,
"resolve":{"scale":{"color":"independent","strokeDash":"independent"},"legend":{"color":"independent","strokeDash":"independent"}},
"hconcat":[
{
"width":445,"height":319,
"data":{"name":"A"},
"view":{"fill":"#f6f6f6","stroke":null},
"title":{"text":"Figure 3.A","orient":"bottom","anchor":"middle","fontSize":15,"fontWeight":"normal","color":"#111","dx":-16,"offset":17},
"encoding":{"x":{"field":"d","type":"temporal","scale":{"type":"utc","domain":[{"year":2007,"month":1,"date":1,"utc":true},{"year":2017,"month":7,"date":1,"utc":true}]},"axis":{"title":null,"tickCount":{"interval":"year","step":1},"labelExpr":"'jan/' + utcFormat(datum.value, '%y')","labelFlush":false,"labelOverlap":false,"ticks":false,"grid":false,"domainColor":"#000","domainWidth":3,"labelFontSize":12,"labelColor":"#111","labelPadding":12}}},
"layer":[
{"transform":[{"filter":"datum.s == 'Average Interest Rate (LHS)'"}],
"mark":{"type":"line","strokeWidth":2.2},
"encoding":{
"y":{"field":"v","type":"quantitative","scale":{"domain":[27,57],"nice":false,"zero":false},"axis":{"orient":"left","values":[27,32,37,42,47,52,57],"labelExpr":"replace(format(datum.value,'.1f'),'.',',') + '%'","title":null,"ticks":false,"grid":false,"domainColor":"#000","domainWidth":2,"labelFontSize":14,"labelColor":"#2f4a70","labelPadding":11,"minExtent":57,"maxExtent":57}},
"color":{"field":"s","type":"nominal","scale":{"domain":["Average Interest Rate (LHS)","One Year Interbank Rate (RHS)"],"range":["#2a5783","#c00000"]},"legend":{"title":null,"orient":"none","legendX":65,"legendY":343,"direction":"horizontal","symbolType":"stroke","symbolSize":441,"symbolStrokeWidth":2,"labelFontSize":11,"labelColor":"#111","labelOffset":2,"labelLimit":400,"columnPadding":16}},
"strokeDash":{"field":"s","type":"nominal","scale":{"domain":["Average Interest Rate (LHS)","One Year Interbank Rate (RHS)"],"range":[[1,0],[2,2]]},"legend":{"title":null,"orient":"none","legendX":65,"legendY":343,"direction":"horizontal","symbolType":"stroke","symbolSize":441,"symbolStrokeWidth":2,"labelFontSize":11,"labelColor":"#111","labelOffset":2,"labelLimit":400,"columnPadding":16}}}},
{"transform":[{"filter":"datum.s == 'One Year Interbank Rate (RHS)'"}],
"mark":{"type":"line","strokeWidth":2},
"encoding":{
"y":{"field":"v","type":"quantitative","scale":{"domain":[5,17],"nice":false,"zero":false},"axis":{"orient":"right","values":[5,7,9,11,13,15,17],"labelExpr":"replace(format(datum.value,'.1f'),'.',',') + '%'","title":null,"ticks":false,"grid":false,"domain":false,"labelFontSize":14,"labelColor":"#c00000","labelPadding":9,"minExtent":50,"maxExtent":50}},
"color":{"field":"s","type":"nominal"},
"strokeDash":{"field":"s","type":"nominal"}}}
],
"resolve":{"scale":{"y":"independent"}}
},
{
"width":432,"height":315,
"data":{"name":"B"},
"view":{"fill":"#f6f6f6","stroke":null},
"title":{"text":"Figure 3.B","orient":"bottom","anchor":"middle","fontSize":15,"fontWeight":"normal","color":"#111","dx":-7,"offset":30},
"encoding":{"x":{"field":"d","type":"temporal","scale":{"type":"utc","domain":[{"year":2007,"month":1,"date":1,"utc":true},{"year":2017,"month":7,"date":1,"utc":true}]},"axis":{"title":null,"tickCount":{"interval":"year","step":1},"labelExpr":"'jan/' + utcFormat(datum.value, '%y')","labelFlush":false,"labelOverlap":false,"ticks":false,"grid":false,"domainColor":"#000","domainWidth":3,"labelFontSize":12,"labelColor":"#111","labelPadding":12}}},
"layer":[
{"transform":[{"filter":"datum.s == 'Households (LHS)'"}],
"mark":{"type":"line","strokeWidth":2.2},
"encoding":{
"y":{"field":"v","type":"quantitative","scale":{"domain":[38,76],"nice":false,"zero":false},"axis":{"orient":"left","values":[38,43,48,53,58,63,68,73],"labelExpr":"replace(format(datum.value,'.1f'),'.',',') + '%'","title":null,"ticks":false,"grid":false,"domainColor":"#000","domainWidth":2,"labelFontSize":14,"labelColor":"#2f4a70","labelPadding":14,"minExtent":58,"maxExtent":58}},
"color":{"field":"s","type":"nominal","scale":{"domain":["Households (LHS)","One Year Interbank Rate (RHS)","Firms (RHS)"],"range":["#2a5783","#c00000","#c00000"]},"legend":{"title":null,"orient":"none","legendX":-10,"legendY":341,"direction":"horizontal","symbolType":"stroke","symbolSize":441,"symbolStrokeWidth":2,"labelFontSize":12.5,"labelColor":"#111","labelOffset":2,"labelLimit":400,"columnPadding":16}},
"strokeDash":{"field":"s","type":"nominal","scale":{"domain":["Households (LHS)","One Year Interbank Rate (RHS)","Firms (RHS)"],"range":[[1,0],[2,2],[6,3]]},"legend":{"title":null,"orient":"none","legendX":-10,"legendY":341,"direction":"horizontal","symbolType":"stroke","symbolSize":441,"symbolStrokeWidth":2,"labelFontSize":12.5,"labelColor":"#111","labelOffset":2,"labelLimit":400,"columnPadding":16}}}},
{"transform":[{"filter":"datum.s != 'Households (LHS)'"}],
"mark":{"type":"line","strokeWidth":2},
"encoding":{
"y":{"field":"v","type":"quantitative","scale":{"domain":[5,35],"nice":false,"zero":false},"axis":{"orient":"right","values":[5,10,15,20,25,30,35],"labelExpr":"replace(format(datum.value,'.1f'),'.',',') + '%'","title":null,"ticks":false,"grid":false,"domain":false,"labelFontSize":14,"labelColor":"#c00000","labelPadding":14,"minExtent":50,"maxExtent":50}},
"color":{"field":"s","type":"nominal"},
"strokeDash":{"field":"s","type":"nominal"}}}
],
"resolve":{"scale":{"y":"independent"}}
}
]
}
